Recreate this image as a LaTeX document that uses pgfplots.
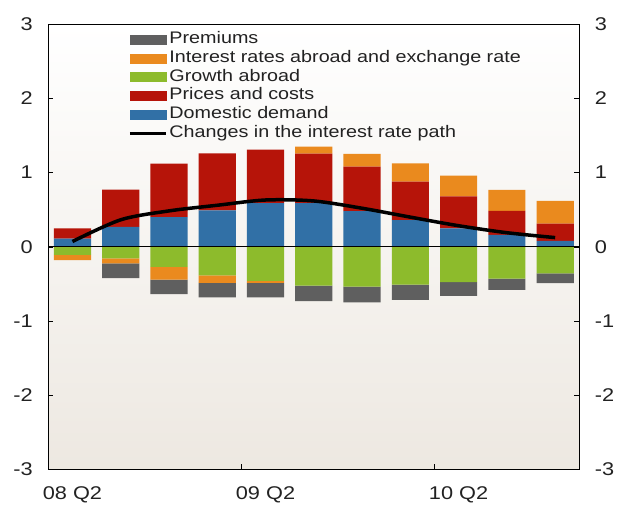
\documentclass[border=0pt]{standalone}
\usepackage{pgfplots}
\pgfplotsset{compat=1.18}
\usepackage{fontspec}
\setmainfont{Liberation Sans}[FakeStretch=1.18]
\definecolor{cgray}{HTML}{5F5F5F}
\definecolor{corange}{HTML}{EA8A1E}
\definecolor{cgreen}{HTML}{8DBB2C}
\definecolor{cred}{HTML}{B61409}
\definecolor{cblue}{HTML}{3170A6}
\definecolor{bgc}{HTML}{EDE8E1}
\definecolor{ctext}{HTML}{222222}
\pgfplotsset{
  base/.style={
    width=531bp, height=445bp, scale only axis,
    xmin=-0.5, xmax=10.5, ymin=-3, ymax=3,
    /pgf/number format/assume math mode=true,
    tick label style={font=\fontsize{18.5}{22}\selectfont, text=ctext},
  },
}
\begin{document}
\begin{tikzpicture}
% positive components
\begin{axis}[base, name=main,
  axis background/.style={top color=white, bottom color=bgc},
  ybar stacked, bar width=0.77,
  ytick={-3,-2,-1,0,1,2,3}, ytick pos=both, yticklabel pos=left,
  tick align=inside, major tick length=5bp,
  tick style={black, line width=0.5bp},
  xtick={3.5,7.5}, xticklabels={}, xtick pos=bottom,
  extra x ticks={0,4,8}, extra x tick labels={08 Q2,09 Q2,10 Q2},
  extra x tick style={major tick length=0pt, xticklabel style={yshift=-14bp}},
  yticklabel style={xshift=-12bp},
  axis line style={black, line width=1.2bp},
]
\addplot[fill=cblue, draw=none] coordinates {(0,0.11) (1,0.27) (2,0.40) (3,0.49) (4,0.59) (5,0.59) (6,0.48) (7,0.36) (8,0.25) (9,0.16) (10,0.08)};
\addplot[fill=cred, draw=none] coordinates {(0,0.14) (1,0.50) (2,0.72) (3,0.77) (4,0.72) (5,0.665) (6,0.60) (7,0.52) (8,0.43) (9,0.326) (10,0.232)};
\addplot[fill=corange, draw=none] coordinates {(0,0) (1,0) (2,0) (3,0) (4,0) (5,0.094) (6,0.174) (7,0.245) (8,0.28) (9,0.28) (10,0.308)};
\end{axis}
% negative components
\begin{axis}[base, ybar stacked, bar width=0.77,
  axis line style={draw=none}, xtick=\empty, ytick=\empty]
\addplot[fill=cgreen, draw=none] coordinates {(0,-0.11) (1,-0.157) (2,-0.272) (3,-0.384) (4,-0.46) (5,-0.523) (6,-0.536) (7,-0.509) (8,-0.478) (9,-0.43) (10,-0.357)};
\addplot[fill=corange, draw=none] coordinates {(0,-0.07) (1,-0.067) (2,-0.17) (3,-0.103) (4,-0.027) (5,0) (6,0) (7,0) (8,0) (9,0) (10,0)};
\addplot[fill=cgray, draw=none] coordinates {(0,0) (1,-0.20) (2,-0.196) (3,-0.196) (4,-0.196) (5,-0.21) (6,-0.214) (7,-0.205) (8,-0.183) (9,-0.152) (10,-0.134)};
\end{axis}
% line, zero line, legend, right labels
\begin{axis}[base,
  axis line style={draw=none}, xtick=\empty,
  ytick={-3,-2,-1,0,1,2,3}, ytick pos=right, yticklabel pos=right,
  major tick length=0pt,
  yticklabel style={xshift=12bp},
  legend style={at={(0.145,0.988)}, anchor=north west, draw=none, fill=none,
    font=\fontsize{16.8}{18}\selectfont, text=ctext, row sep=3.2bp,
    nodes={inner xsep=2bp, inner ysep=0bp, text height=12bp, text depth=3.5bp}},
  legend cell align=left,
]
\addplot[black, line width=0.8bp, forget plot] coordinates {(-0.5,0) (10.5,0)};
\addplot[black, line width=3.5bp, smooth, forget plot] coordinates {(0,0.071) (1,0.364) (2,0.484) (3,0.56) (4,0.631) (5,0.618) (6,0.52) (7,0.40) (8,0.284) (9,0.19) (10,0.124)};
\addlegendimage{legend image code/.code={\fill[cgray] (0bp,-4.5bp) rectangle (36bp,4.5bp);}}
\addlegendentry{Premiums}
\addlegendimage{legend image code/.code={\fill[corange] (0bp,-4.5bp) rectangle (36bp,4.5bp);}}
\addlegendentry{Interest rates abroad and exchange rate}
\addlegendimage{legend image code/.code={\fill[cgreen] (0bp,-4.5bp) rectangle (36bp,4.5bp);}}
\addlegendentry{Growth abroad}
\addlegendimage{legend image code/.code={\fill[cred] (0bp,-4.5bp) rectangle (36bp,4.5bp);}}
\addlegendentry{Prices and costs}
\addlegendimage{legend image code/.code={\fill[cblue] (0bp,-4.5bp) rectangle (36bp,4.5bp);}}
\addlegendentry{Domestic demand}
\addlegendimage{legend image code/.code={\draw[black, line width=3bp] (0bp,0bp) -- (36bp,0bp);}}
\addlegendentry{Changes in the interest rate path}
\end{axis}
\pgfresetboundingbox
\path[use as bounding box] ([shift={(-48.3bp,-43.7bp)}]main.south west) rectangle ([shift={(580.7bp,469.3bp)}]main.south west);
\end{tikzpicture}
\end{document}
